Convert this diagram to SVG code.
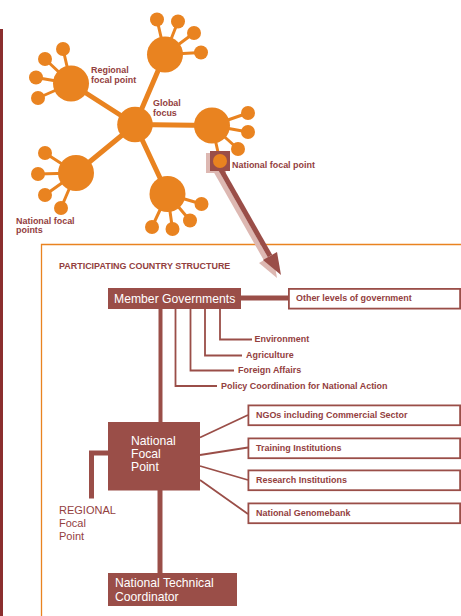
<svg xmlns="http://www.w3.org/2000/svg" width="461" height="616" viewBox="0 0 461 616">
<style>
.sp{stroke:#E98320;stroke-width:5;fill:none}
.st{stroke:#E98320;stroke-width:3;fill:none}
.hub{fill:#E98320}
.lb{font-family:"Liberation Sans",Arial,sans-serif;font-weight:bold;font-size:8.95px;fill:#93403E}
.wt{font-family:"Liberation Sans",Arial,sans-serif;font-size:12.2px;fill:#ffffff}
.rg{font-family:"Liberation Sans",Arial,sans-serif;font-size:11px;fill:#93403E}
.box{fill:#9A4E48}
.obox{fill:#ffffff;stroke:#9A4E48;stroke-width:1.8}
.thin{stroke:#9A4E48;stroke-width:1.8;fill:none}
.thick{stroke:#9A4E48;stroke-width:5;fill:none}
</style>
<rect x="0" y="29" width="3" height="587" fill="#8B2E2E"/>
<path d="M41.5,616 V244.5 H461" fill="none" stroke="#E98320" stroke-width="1.3"/>

<g id="network">
<g id="spokes">
<path class="sp" d="M135,124.5 L71,83.5 M135,124.5 L165,54.5 M135,124.5 L212,125.5 M135,124.5 L76,173 M135,124.5 L167.5,194"/>
<path class="st" d="M71,83.5 L63,49 M71,83.5 L45,59 M71,83.5 L36,77.5 M71,83.5 L38,98"/>
<path class="st" d="M165,54.5 L157,19.5 M165,54.5 L178,21.5 M165,54.5 L194,33 M165,54.5 L201,52.5"/>
<path class="st" d="M212,125.5 L248,113 M212,125.5 L248,132 M212,125.5 L238,149 M212,125.5 L220,161"/>
<path class="st" d="M76,173 L45,153 M76,173 L38,174 M76,173 L45,195 M76,173 L61,208"/>
<path class="st" d="M167.5,194 L201.5,204 M167.5,194 L190,220.5 M167.5,194 L172.5,229 M167.5,194 L152,227"/>
</g>
<g id="global-focus"><circle class="hub" cx="135" cy="124.5" r="17.8"/></g>
<g id="hub-regional"><circle class="hub" cx="71" cy="83.5" r="18"/>
<circle class="hub" cx="63" cy="49" r="7"/><circle class="hub" cx="45" cy="59" r="7"/><circle class="hub" cx="36" cy="77.5" r="7"/><circle class="hub" cx="38" cy="98" r="7"/></g>
<g id="hub-top"><circle class="hub" cx="165" cy="54.5" r="18"/>
<circle class="hub" cx="157" cy="19.5" r="7"/><circle class="hub" cx="178" cy="21.5" r="7"/><circle class="hub" cx="194" cy="33" r="7"/><circle class="hub" cx="201" cy="52.5" r="7"/></g>
<g id="hub-right"><circle class="hub" cx="212" cy="125.5" r="18"/>
<circle class="hub" cx="248" cy="113" r="7"/><circle class="hub" cx="248" cy="132" r="7"/><circle class="hub" cx="238" cy="149" r="7"/></g>
<g id="hub-lowerleft"><circle class="hub" cx="76" cy="173" r="18"/>
<circle class="hub" cx="45" cy="153" r="7"/><circle class="hub" cx="38" cy="174" r="7"/><circle class="hub" cx="45" cy="195" r="7"/><circle class="hub" cx="61" cy="208" r="7"/></g>
<g id="hub-bottom"><circle class="hub" cx="167.5" cy="194" r="18"/>
<circle class="hub" cx="201.5" cy="204" r="7"/><circle class="hub" cx="190" cy="220.5" r="7"/><circle class="hub" cx="172.5" cy="229" r="7"/><circle class="hub" cx="152" cy="227" r="7"/></g>
<g id="arrow">
<rect x="206" y="153" width="20" height="20" fill="#DDB8B2"/>
<line x1="216" y1="171" x2="266" y2="259" stroke="#DDB8B2" stroke-width="5"/>
<polygon points="277,278 273,255 259,263" fill="#DDB8B2"/>
<rect x="210" y="151" width="20" height="20" fill="#9A4E48"/>
<line x1="220" y1="168" x2="270" y2="256" stroke="#9A4E48" stroke-width="5"/>
<polygon points="281,275 277,252 263,260" fill="#9A4E48"/>
</g>
<g id="national-focal-point-dot"><circle class="hub" cx="220" cy="161" r="7"/></g>
<text class="lb" x="91" y="73">Regional</text>
<text class="lb" x="91" y="83">focal point</text>
<text class="lb" x="153" y="106">Global</text>
<text class="lb" x="153" y="116">focus</text>
<text class="lb" x="232" y="168">National focal point</text>
<text class="lb" x="16" y="224">National focal</text>
<text class="lb" x="16" y="233">points</text>
</g>

<text class="lb" x="59" y="269">PARTICIPATING COUNTRY STRUCTURE</text>

<g id="connectors">
<line class="thick" x1="241" y1="298" x2="289" y2="298"/>
<line x1="160.5" y1="309" x2="160.5" y2="423" stroke="#9A4E48" stroke-width="4"/>
<line class="thick" x1="160" y1="490" x2="160" y2="573"/>
<path class="thick" d="M108,453 H91.5 V498.5"/>
<path class="thin" d="M220,309 V339.5 H252"/>
<path class="thin" d="M205,309 V355.5 H242"/>
<path class="thin" d="M190.5,309 V370.5 H234"/>
<path class="thin" d="M175.5,309 V386 H217"/>
<path class="thin" d="M200,437.5 L248,415 M200,455 L248,447.5 M200,466 L248,480 M200,480 L248,514"/>
</g>

<g id="member-governments">
<rect class="box" x="108" y="288" width="133" height="21"/>
<text class="wt" x="114" y="302.5">Member Governments</text>
</g>
<g id="other-levels">
<rect class="obox" x="288.9" y="288.9" width="171.2" height="19.7"/>
<text class="lb" x="296" y="301">Other levels of government</text>
</g>
<g id="environment"><text class="lb" x="254.5" y="342">Environment</text></g>
<g id="agriculture"><text class="lb" x="246" y="358">Agriculture</text></g>
<g id="foreign-affairs"><text class="lb" x="238" y="373">Foreign Affairs</text></g>
<g id="policy-coordination"><text class="lb" x="221" y="388.5">Policy Coordination for National Action</text></g>

<g id="national-focal-point">
<rect class="box" x="108" y="422" width="92" height="68.5"/>
<text class="wt" x="131" y="445">National</text>
<text class="wt" x="131" y="458">Focal</text>
<text class="wt" x="131" y="471">Point</text>
</g>
<g id="regional-focal-point">
<text class="rg" x="59" y="513.5">REGIONAL</text>
<text class="rg" x="59" y="526.5">Focal</text>
<text class="rg" x="59" y="539.5">Point</text>
</g>
<g id="ngos">
<rect class="obox" x="248.4" y="405.4" width="211.7" height="19.8"/>
<text class="lb" x="256" y="418">NGOs including Commercial Sector</text>
</g>
<g id="training">
<rect class="obox" x="248.4" y="438.4" width="211.7" height="19.8"/>
<text class="lb" x="256" y="451">Training Institutions</text>
</g>
<g id="research">
<rect class="obox" x="248.4" y="470.4" width="211.7" height="19.8"/>
<text class="lb" x="256" y="483">Research Institutions</text>
</g>
<g id="genomebank">
<rect class="obox" x="248.4" y="503.4" width="211.7" height="19.8"/>
<text class="lb" x="256" y="516">National Genomebank</text>
</g>
<g id="national-technical-coordinator">
<rect class="box" x="108" y="573" width="129" height="33"/>
<text class="wt" x="115" y="587">National Technical</text>
<text class="wt" x="115" y="601">Coordinator</text>
</g>
</svg>
